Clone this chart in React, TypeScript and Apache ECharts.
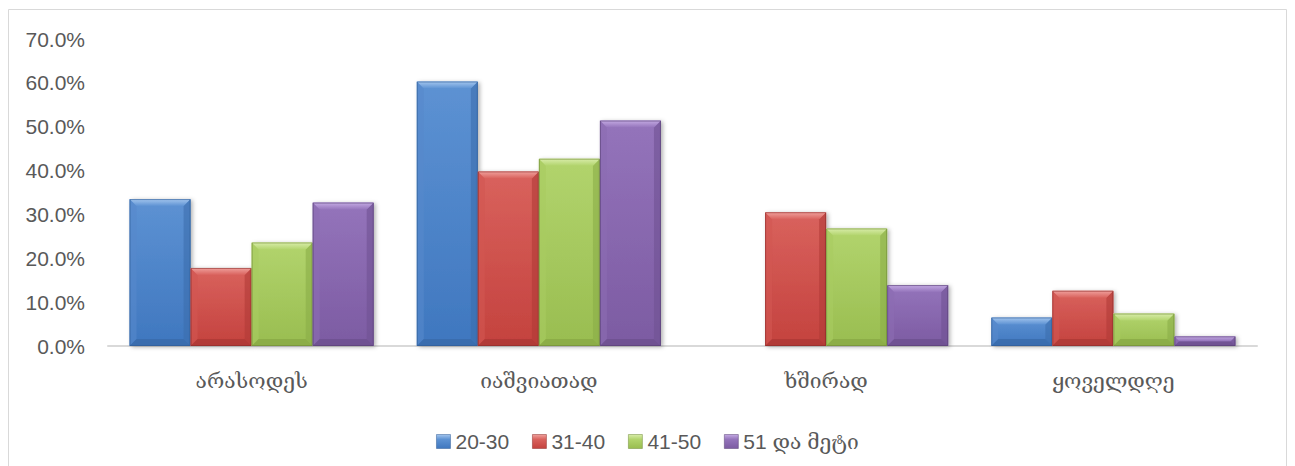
import React, { useEffect, useRef } from "react";
import * as echarts from "echarts";

// Response categories and age groups
const categories = ["არასოდეს", "იაშვიათად", "ხშირად", "ყოველდღე"];
const seriesNames = ["20-30", "31-40", "41-50", "51 და მეტი"];

// Share of respondents, percent
const age20to30 = [33.5, 60.3, 0, 6.5];
const age31to40 = [17.8, 39.8, 30.5, 12.6];
const age41to50 = [23.6, 42.7, 26.8, 7.4];
const age51plus = [32.7, 51.4, 13.9, 2.2];

// Value axis
const yMin = 0;
const yMax = 70;
const yStep = 10;

const seriesValues = [age20to30, age31to40, age41to50, age51plus];

type Palette = {
  faceTop: string;
  faceBottom: string;
  bevelTop: string;
  bevelLeft: string;
  bevelRight: string;
  bevelBottom: string;
  edge: string;
  legend: string;
};

const palettes: Palette[] = [
  {
    faceTop: "#5d92d3",
    faceBottom: "#3f77bf",
    bevelTop: "#a4c6ee",
    bevelLeft: "#5689cb",
    bevelRight: "#3c6eae",
    bevelBottom: "#386aaa",
    edge: "#2f5b94",
    legend: "#4a80c4",
  },
  {
    faceTop: "#d9625d",
    faceBottom: "#c4423e",
    bevelTop: "#f0a19d",
    bevelLeft: "#d25651",
    bevelRight: "#b03b37",
    bevelBottom: "#ac3834",
    edge: "#8c2c29",
    legend: "#c94c48",
  },
  {
    faceTop: "#b2d46d",
    faceBottom: "#99bd50",
    bevelTop: "#d9edaa",
    bevelLeft: "#a9cb60",
    bevelRight: "#8bad48",
    bevelBottom: "#88a945",
    edge: "#6f8b36",
    legend: "#a1c55c",
  },
  {
    faceTop: "#9474bb",
    faceBottom: "#7c5ba2",
    bevelTop: "#c4aae3",
    bevelLeft: "#8c6cb3",
    bevelRight: "#6f5192",
    bevelBottom: "#6d508f",
    edge: "#563f73",
    legend: "#8466ad",
  },
];

const CATEGORY_GAP = 0.15;
const BEVEL = 7;
const TEXT_COLOR = "#595959";
const LATIN_FONT = "'Liberation Sans', 'DejaVu Serif', sans-serif";
const GEORGIAN_FONT = "'DejaVu Serif', 'DejaVu Sans', serif";

function makeRenderItem(seriesIndex: number, pal: Palette) {
  return (_params: any, api: any) => {
    const cat = api.value(0);
    const val = api.value(1);
    if (!(val > 0)) return null;
    const base = api.coord([cat, 0]);
    const top = api.coord([cat, val]);
    const catW = api.size([1, 0])[0];
    const groupW = catW * (1 - CATEGORY_GAP);
    const bw = groupW / seriesValues.length;
    const x0 = base[0] - groupW / 2 + seriesIndex * bw;
    const x1 = x0 + bw;
    const yt = top[1];
    const yb = base[1];
    const h = yb - yt;
    const b = Math.min(BEVEL, h / 2, bw / 2);

    return {
      type: "group",
      children: [
        {
          type: "rect",
          shape: { x: x0, y: yt, width: bw, height: h },
          style: {
            fill: new echarts.graphic.LinearGradient(0, 0, 0, 1, [
              { offset: 0, color: pal.faceTop },
              { offset: 1, color: pal.faceBottom },
            ]),
            shadowBlur: 4,
            shadowOffsetX: 2,
            shadowOffsetY: 1,
            shadowColor: "rgba(0,0,0,0.3)",
          },
        },
        {
          type: "polygon",
          shape: { points: [[x0, yt], [x0 + b, yt + b], [x0 + b, yb - b], [x0, yb]] },
          style: { fill: pal.bevelLeft, opacity: 0.6 },
        },
        {
          type: "polygon",
          shape: { points: [[x1, yt], [x1, yb], [x1 - b, yb - b], [x1 - b, yt + b]] },
          style: { fill: pal.bevelRight, opacity: 0.6 },
        },
        {
          type: "polygon",
          shape: { points: [[x0, yb], [x1, yb], [x1 - b, yb - b], [x0 + b, yb - b]] },
          style: { fill: pal.bevelBottom, opacity: 0.8 },
        },
        {
          type: "polygon",
          shape: { points: [[x0, yt], [x1, yt], [x1 - b, yt + b], [x0 + b, yt + b]] },
          style: {
            fill: new echarts.graphic.LinearGradient(0, 0, 0, 1, [
              { offset: 0, color: pal.bevelTop },
              { offset: 1, color: pal.faceTop },
            ]),
          },
        },
        {
          type: "rect",
          shape: { x: x0 + 0.5, y: yt + 0.5, width: bw - 1, height: h - 1 },
          style: { fill: "none", stroke: pal.edge, lineWidth: 1, opacity: 0.6 },
        },
      ],
    };
  };
}

export default function App() {
  const ref = useRef<HTMLDivElement>(null);

  useEffect(() => {
    if (!ref.current) return;
    const chart = echarts.init(ref.current, undefined, { renderer: "svg" });

    const series = seriesNames.map((name, i) => ({
      type: "custom" as const,
      name,
      renderItem: makeRenderItem(i, palettes[i]),
      encode: { x: 0, y: 1 },
      itemStyle: { color: palettes[i].legend },
      data: seriesValues[i].map((v, c) => [c, v]),
    }));

    chart.setOption({
      animation: false,
      backgroundColor: "#ffffff",
      grid: {
        left: 108,
        right: 38,
        top: 39,
        bottom: 120,
        containLabel: false,
        outerBoundsMode: "none",
      },
      graphic: [
        {
          type: "rect",
          shape: { x: 8.5, y: 9.5, width: 1278, height: 470 },
          style: { fill: "none", stroke: "#d9d9d9", lineWidth: 1 },
          silent: true,
        },
      ],
      legend: {
        data: seriesNames.map((n, i) => ({
          name: n,
          icon: "rect",
          itemStyle: {
            color: new echarts.graphic.LinearGradient(0, 0, 0, 1, [
              { offset: 0, color: palettes[i].bevelTop },
              { offset: 0.35, color: palettes[i].faceTop },
              { offset: 1, color: palettes[i].faceBottom },
            ]),
            borderColor: palettes[i].edge,
            borderWidth: 0.5,
          },
        })),
        left: "center",
        top: 426,
        itemWidth: 14,
        itemHeight: 14,
        itemGap: 23,
        textStyle: { color: TEXT_COLOR, fontSize: 21, fontFamily: LATIN_FONT },
      },
      xAxis: {
        type: "category",
        data: categories,
        axisLine: { show: true, lineStyle: { color: "#d9d9d9", width: 2 } },
        axisTick: { show: false },
        axisLabel: {
          color: TEXT_COLOR,
          fontSize: 21,
          fontFamily: GEORGIAN_FONT,
          margin: 24,
        },
        splitLine: { show: false },
      },
      yAxis: {
        type: "value",
        min: yMin,
        max: yMax,
        interval: yStep,
        axisLine: { show: false },
        axisTick: { show: false },
        splitLine: { show: false },
        axisLabel: {
          color: TEXT_COLOR,
          fontSize: 21,
          fontFamily: LATIN_FONT,
          margin: 23,
          formatter: (v: number) => v.toFixed(1) + "%",
        },
      },
      series,
    });

    return () => chart.dispose();
  }, []);

  return (
    <div
      ref={ref}
      style={{ position: "absolute", left: 0, top: 0, width: 1295, height: 466 }}
    />
  );
}
